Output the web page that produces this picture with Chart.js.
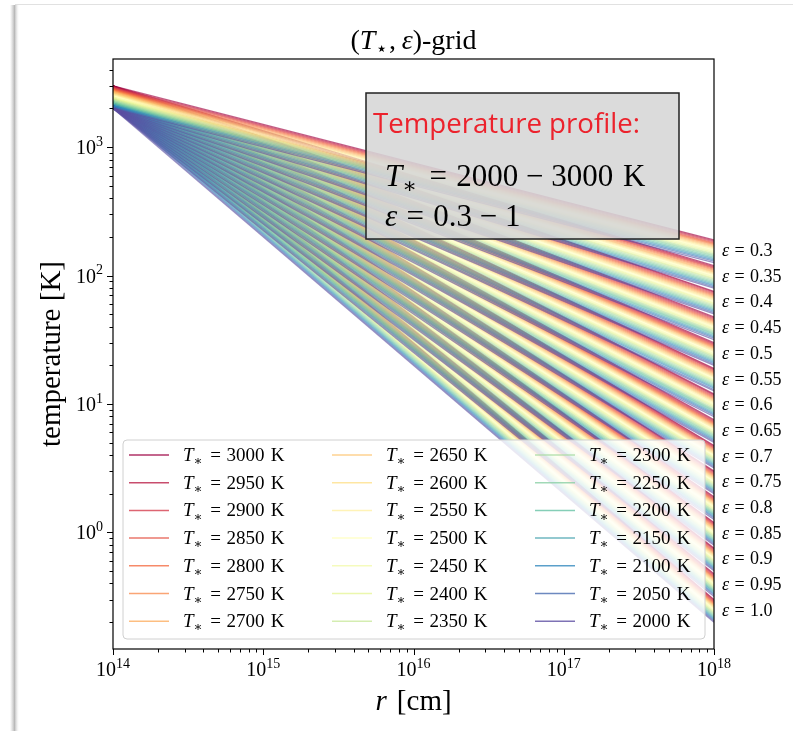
<!DOCTYPE html>
<html>
<head>
<meta charset="utf-8">
<script src="https://cdn.jsdelivr.net/npm/chart.js@4.4.1/dist/chart.umd.min.js"></script>
<style>
  body { margin: 0; background: #fff; }
  canvas { display: block; }
</style>
</head>
<body>
<canvas id="myChart" width="793" height="731"></canvas>
<script>
// stellar temperatures (legend) and epsilon exponents (right labels)
const tStars = [3000, 2950, 2900, 2850, 2800, 2750, 2700, 2650, 2600, 2550, 2500,
                2450, 2400, 2350, 2300, 2250, 2200, 2150, 2100, 2050, 2000];
const epsilons = [0.3, 0.35, 0.4, 0.45, 0.5, 0.55, 0.6, 0.65, 0.7, 0.75, 0.8, 0.85, 0.9, 0.95, 1.0];
const epsLabels = ['0.3', '0.35', '0.4', '0.45', '0.5', '0.55', '0.6', '0.65', '0.7', '0.75',
                   '0.8', '0.85', '0.9', '0.95', '1.0'];
// radius range of every profile [cm]
const rStart = 1e14;
const rEnd = 1e18;
const xTicks = [1e14, 1e15, 1e16, 1e17, 1e18];
const yTicks = [1, 10, 100, 1000];

const SERIF = '"Liberation Serif", "DejaVu Serif", serif';

// Spectral colormap
const spectral = ['#9e0142', '#d53e4f', '#f46d43', '#fdae61', '#fee08b', '#ffffbf',
                  '#e6f598', '#abdda4', '#66c2a5', '#3288bd', '#5e4fa2'];
function hex(h) { return [1, 3, 5].map(i => parseInt(h.substr(i, 2), 16)); }
function cmap(t, a) {
  let p = t * (spectral.length - 1);
  let i = Math.min(Math.floor(p), spectral.length - 2);
  let f = p - i;
  let c0 = hex(spectral[i]), c1 = hex(spectral[i + 1]);
  let c = c0.map((v, k) => Math.round(v + (c1[k] - v) * f));
  return 'rgba(' + c.join(',') + ',' + a + ')';
}

// each profile is a straight line in log-log: T(r) = T* (r / r0)^-eps
// chart.js paints the first dataset on top, so 2000 K goes first (it was plotted last)
let datasets = [];
tStars.forEach(function (ts, i) {
  let col = cmap(i / (tStars.length - 1), 0.62);
  epsilons.forEach(function (eps) {
    datasets.unshift({
      data: [{x: rStart, y: ts}, {x: rEnd, y: ts * Math.pow(rEnd / rStart, -eps)}],
      borderColor: col,
      borderWidth: 1.3,
      pointRadius: 0,
      fill: false,
      tension: 0
    });
  });
});

// draw mixed math text, gaps in em, returns width
function mathText(ctx, parts, x, y, size, draw) {
  let cx = x;
  parts.forEach(function (p) {
    let s = (p.sub || p.sup) ? size * 0.7 : size;
    ctx.font = (p.it ? 'italic ' : '') + s + 'px ' + (p.fam || SERIF);
    let dy = p.sub ? size * 0.22 : (p.sup ? -size * 0.42 : 0);
    cx += (p.pre || 0) * size;
    if (draw !== false) ctx.fillText(p.t, cx, y + dy);
    cx += ctx.measureText(p.t).width + (p.gap || 0) * size;
  });
  return cx - x;
}
function eq(lhs, rhs) {
  let parts = lhs.slice();
  parts.push({t: '=', pre: 0.3, gap: 0.3});
  rhs.forEach(function (r) { parts.push(r); });
  return parts;
}
function tStarParts(n) {
  return eq([{t: 'T', it: true}, {t: '\u2217', sub: true, gap: 0.1}],
            [{t: String(n)}, {t: 'K', pre: 0.32}]);
}
function epsParts(s) {
  return eq([{t: '\u03b5', it: true}], [{t: s}]);
}

const decor = {
  id: 'decor',
  beforeDraw(chart) {
    const ctx = chart.ctx;
    ctx.save();
    ctx.fillStyle = '#fff';
    ctx.fillRect(0, 0, chart.width, chart.height);
    // slide shadow on the left / top
    let g = ctx.createLinearGradient(10, 0, 19, 0);
    g.addColorStop(0, 'rgba(200,200,200,0)');
    g.addColorStop(0.5, 'rgba(185,185,185,1)');
    g.addColorStop(1, 'rgba(235,235,235,0)');
    ctx.fillStyle = g;
    ctx.fillRect(10, 5, 9, chart.height - 5);
    ctx.fillStyle = 'rgba(225,225,225,1)';
    ctx.fillRect(15, 4, chart.width - 15, 1);
    ctx.restore();
  },
  afterDatasetsDraw(chart) {
    const ctx = chart.ctx;
    const a = chart.chartArea;
    const xs = chart.scales.x, ys = chart.scales.y;
    ctx.save();
    ctx.fillStyle = '#000';
    ctx.textBaseline = 'alphabetic';

    // text box
    ctx.fillStyle = 'rgba(214,214,214,0.88)';
    ctx.fillRect(366, 93, 313, 146);
    ctx.strokeStyle = '#222';
    ctx.lineWidth = 1.5;
    ctx.strokeRect(366, 93, 313, 146);
    ctx.fillStyle = 'rgb(236,34,44)';
    let fs = 26;
    ctx.font = fs + 'px "Open Sans", "Noto Sans", sans-serif';
    fs = fs * 267 / ctx.measureText('Temperature profile:').width;
    ctx.font = fs + 'px "Open Sans", "Noto Sans", sans-serif';
    ctx.fillText('Temperature profile:', 373, 133);
    ctx.fillStyle = '#000';
    mathText(ctx, eq([{t: 'T', it: true}, {t: '\u2217', sub: true, gap: 0.1}],
                     [{t: '2000'}, {t: '\u2212', pre: 0.25, gap: 0.25}, {t: '3000'}, {t: 'K', pre: 0.32}]),
             385, 186, 31);
    mathText(ctx, eq([{t: '\u03b5', it: true}], [{t: '0.3'}, {t: '\u2212', pre: 0.25, gap: 0.25}, {t: '1'}]),
             385, 226, 31);

    // legend
    ctx.beginPath();
    ctx.roundRect(123, 440, 582, 199, 4);
    ctx.fillStyle = 'rgba(255,255,255,0.8)';
    ctx.fill();
    ctx.strokeStyle = '#d0d0d0';
    ctx.lineWidth = 1;
    ctx.stroke();
    tStars.forEach(function (ts, i) {
      let colI = Math.floor(i / 7), row = i % 7;
      let y = 455 + row * 27.7;
      let x0 = 129 + colI * 203;
      ctx.strokeStyle = cmap(i / (tStars.length - 1), 0.8);
      ctx.lineWidth = 1.5;
      ctx.beginPath();
      ctx.moveTo(x0, y);
      ctx.lineTo(x0 + 40, y);
      ctx.stroke();
      ctx.fillStyle = '#000';
      mathText(ctx, tStarParts(ts), x0 + 54, y + 6, 19);
    });

    // frame
    ctx.strokeStyle = '#000';
    ctx.lineWidth = 1.2;
    ctx.strokeRect(a.left, a.top, a.right - a.left, a.bottom - a.top);

    // ticks
    ctx.lineWidth = 1;
    ctx.beginPath();
    for (let e = 14; e < 18; e++) {
      for (let m = 1; m < 10; m++) {
        let px = Math.round(xs.getPixelForValue(m * Math.pow(10, e))) + 0.5;
        let len = m === 1 ? 6 : 3.5;
        ctx.moveTo(px, a.bottom);
        ctx.lineTo(px, a.bottom + len);
      }
    }
    let px18 = Math.round(xs.getPixelForValue(1e18)) + 0.5;
    ctx.moveTo(px18, a.bottom);
    ctx.lineTo(px18, a.bottom + 6);
    for (let e = -1; e < 4; e++) {
      for (let m = 1; m < 10; m++) {
        let v = m * Math.pow(10, e);
        if (v < ys.min || v > ys.max) continue;
        let py = Math.round(ys.getPixelForValue(v)) + 0.5;
        let len = m === 1 ? 6 : 3.5;
        ctx.moveTo(a.left, py);
        ctx.lineTo(a.left - len, py);
      }
    }
    ctx.stroke();

    // tick labels
    ctx.fillStyle = '#000';
    xTicks.forEach(function (v) {
      let parts = [{t: '10'}, {t: String(Math.round(Math.log10(v))), sup: true}];
      let w = mathText(ctx, parts, 0, 0, 20, false);
      mathText(ctx, parts, xs.getPixelForValue(v) - w / 2, a.bottom + 27, 20);
    });
    yTicks.forEach(function (v) {
      let parts = [{t: '10'}, {t: String(Math.round(Math.log10(v))), sup: true}];
      let w = mathText(ctx, parts, 0, 0, 20, false);
      mathText(ctx, parts, a.left - 10 - w, ys.getPixelForValue(v) + 7, 20);
    });

    // epsilon labels at the right end of the middle profile
    epsilons.forEach(function (eps, k) {
      let v = tStars[10] * Math.pow(rEnd / rStart, -eps);
      mathText(ctx, epsParts(epsLabels[k]), a.right + 8, ys.getPixelForValue(v) + 6, 18);
    });

    // title
    let tparts = [{t: '('}, {t: 'T', it: true}, {t: '\u22c6', sub: true, fam: '"DejaVu Sans", sans-serif', gap: 0.05},
                  {t: ','}, {t: '\u03b5', it: true, pre: 0.2}, {t: ')-grid'}];
    let tw = mathText(ctx, tparts, 0, 0, 28, false);
    mathText(ctx, tparts, (a.left + a.right) / 2 - tw / 2, 49, 28);

    // axis titles
    let xparts = [{t: 'r', it: true}, {t: '[cm]', pre: 0.35}];
    let xw = mathText(ctx, xparts, 0, 0, 29, false);
    mathText(ctx, xparts, (a.left + a.right) / 2 - xw / 2, 710, 29);

    ctx.save();
    ctx.translate(60, (a.top + a.bottom) / 2);
    ctx.rotate(-Math.PI / 2);
    ctx.font = '29px ' + SERIF;
    ctx.textAlign = 'center';
    ctx.fillText('temperature [K]', 0, 0);
    ctx.restore();

    ctx.restore();
  }
};

const config = {
  type: 'line',
  data: { datasets: datasets },
  options: {
    responsive: false,
    animation: false,
    events: [],
    layout: { padding: { left: 113, right: 79, top: 59, bottom: 82 } },
    plugins: { legend: { display: false }, tooltip: { enabled: false }, title: { display: false } },
    scales: {
      x: { type: 'logarithmic', min: rStart, max: rEnd, display: false },
      y: { type: 'logarithmic', min: 0.1236, max: 4853, display: false }
    }
  },
  plugins: [decor]
};

const myChart = new Chart(document.getElementById('myChart'), config);
</script>
</body>
</html>
